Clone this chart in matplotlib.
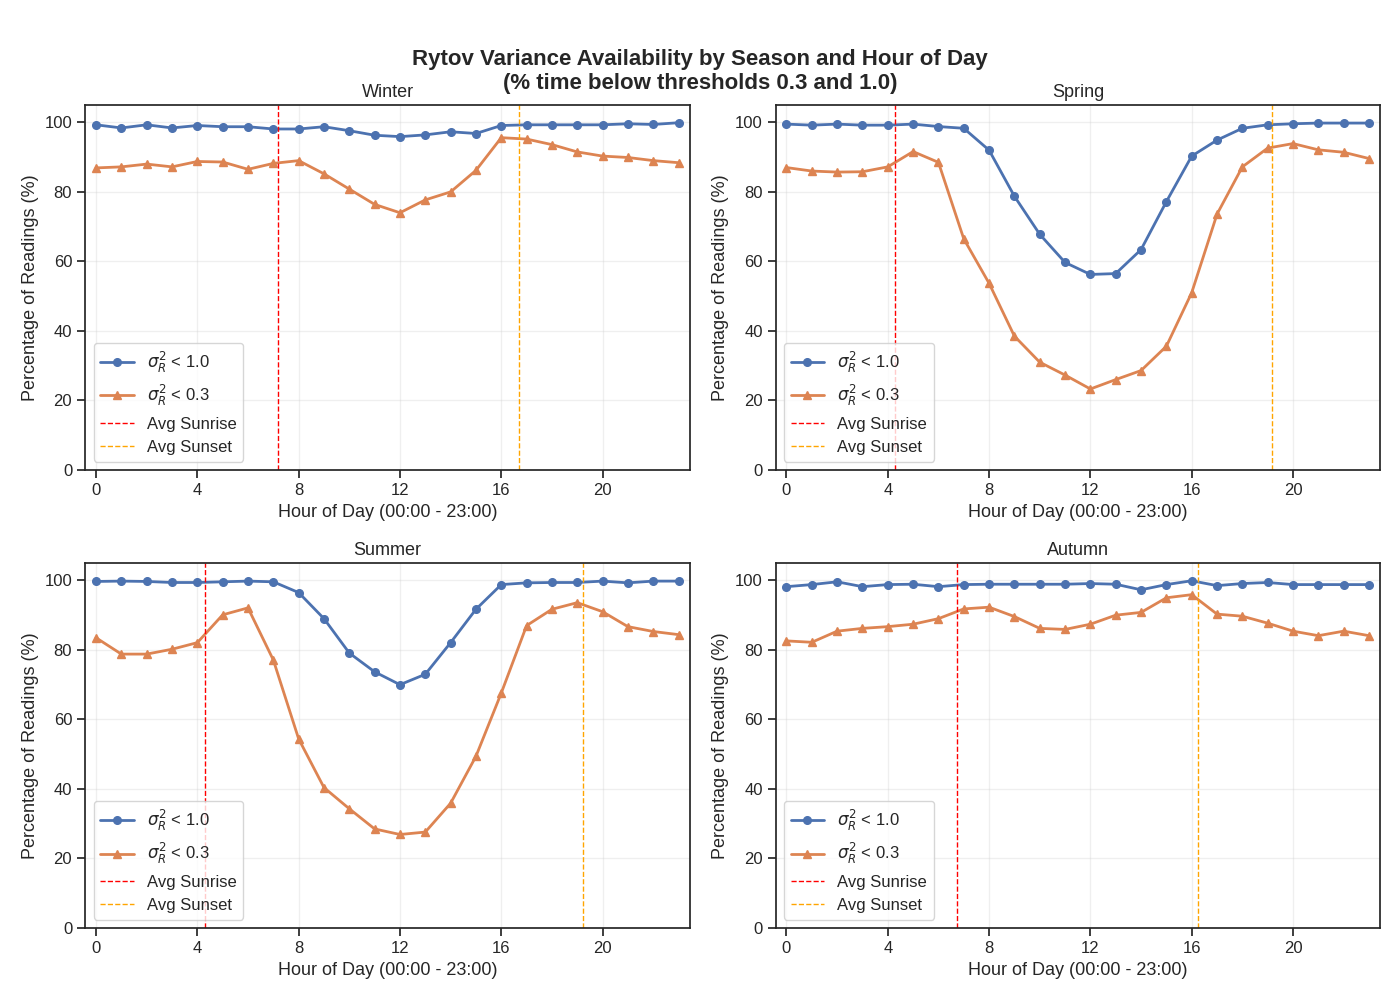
import matplotlib
matplotlib.use("Agg")
import matplotlib.pyplot as plt
import seaborn as sns

hours = list(range(24))
seasons = ["Winter", "Spring", "Summer", "Autumn"]

winter_lt10 = [99.3, 98.4, 99.3, 98.4, 99.1, 98.75, 98.75, 98.1, 98.1, 98.75, 97.6, 96.3,
               95.9, 96.4, 97.3, 96.8, 99.1, 99.3, 99.3, 99.3, 99.3, 99.6, 99.4, 99.9]
winter_lt03 = [86.9, 87.2, 88.0, 87.2, 88.75, 88.6, 86.5, 88.2, 89.0, 85.2, 80.8, 76.4,
               74.0, 77.7, 80.0, 86.2, 95.6, 95.2, 93.6, 91.5, 90.3, 89.9, 89.0, 88.4]
spring_lt10 = [99.5, 99.2, 99.5, 99.2, 99.2, 99.5, 98.8, 98.3, 92.0, 78.75, 67.8, 59.7,
               56.25, 56.5, 63.4, 77.2, 90.3, 94.9, 98.3, 99.3, 99.6, 99.8, 99.8, 99.8]
spring_lt03 = [87.0, 86.0, 85.7, 85.8, 87.2, 91.6, 88.5, 66.5, 53.7, 38.5, 31.0, 27.3,
               23.3, 26.0, 28.6, 35.6, 51.0, 73.6, 87.2, 92.6, 93.9, 92.1, 91.4, 89.6]
summer_lt10 = [99.7, 99.8, 99.7, 99.4, 99.4, 99.6, 99.8, 99.6, 96.5, 89.0, 79.1, 73.7,
               70.0, 73.0, 82.1, 91.7, 98.8, 99.3, 99.4, 99.4, 99.8, 99.3, 99.8, 99.8]
summer_lt03 = [83.5, 78.8, 78.8, 80.2, 82.1, 90.1, 92.1, 77.1, 54.4, 40.4, 34.3, 28.5,
               26.9, 27.6, 35.9, 49.4, 67.6, 87.0, 91.7, 93.6, 91.0, 86.7, 85.3, 84.4]
autumn_lt10 = [98.2, 98.8, 99.6, 98.2, 98.8, 98.9, 98.2, 98.8, 98.9, 98.9, 98.9, 98.9,
               99.1, 98.9, 97.3, 98.8, 99.9, 98.5, 99.1, 99.4, 98.8, 98.8, 98.8, 98.8]
autumn_lt03 = [82.6, 82.2, 85.4, 86.2, 86.7, 87.4, 89.0, 91.8, 92.3, 89.6, 86.2, 85.9,
               87.4, 90.0, 90.8, 95.0, 95.9, 90.3, 89.7, 87.7, 85.4, 84.1, 85.4, 84.1]

sunrise = [7.17, 4.27, 4.30, 6.74]
sunset = [16.71, 19.18, 19.22, 16.24]

lt10 = [winter_lt10, spring_lt10, summer_lt10, autumn_lt10]
lt03 = [winter_lt03, spring_lt03, summer_lt03, autumn_lt03]

sns.set_theme(style="ticks")
plt.rcParams["font.family"] = ["Liberation Sans", "DejaVu Sans"]
plt.rcParams["mathtext.fontset"] = "dejavusans"

BLUE = "#4C72B0"
ORANGE = "#DD8452"

fig, axes = plt.subplots(2, 2, figsize=(14, 10), dpi=100)
fig.subplots_adjust(left=0.061, right=0.986, top=0.895, bottom=0.072,
                    wspace=0.142, hspace=0.255)

for ax, name, a, b, sr, ss in zip(axes.flat, seasons, lt10, lt03, sunrise, sunset):
    ax.plot(hours, a, marker="o", color=BLUE, lw=2, ms=5.5, label=r"$\sigma_R^2$ < 1.0")
    ax.plot(hours, b, marker="^", color=ORANGE, lw=2, ms=5.5, label=r"$\sigma_R^2$ < 0.3")
    ax.axvline(sr, color="red", ls="--", lw=1, label="Avg Sunrise")
    ax.axvline(ss, color="orange", ls="--", lw=1, label="Avg Sunset")
    ax.set_title(name, fontsize=13)
    ax.set_xlabel("Hour of Day (00:00 - 23:00)", fontsize=13)
    ax.set_ylabel("Percentage of Readings (%)", fontsize=13)
    ax.set_xticks(range(0, 24, 4))
    ax.set_xlim(-0.42, 23.45)
    ax.set_ylim(0, 105)
    ax.tick_params(labelsize=12)
    ax.grid(True, alpha=0.3)
    ax.legend(loc="lower left", fontsize=12)

fig.suptitle("Rytov Variance Availability by Season and Hour of Day\n"
             "(% time below thresholds 0.3 and 1.0)",
             fontsize=16, fontweight="bold", y=0.951)

fig.savefig("out.png", dpi=100)
